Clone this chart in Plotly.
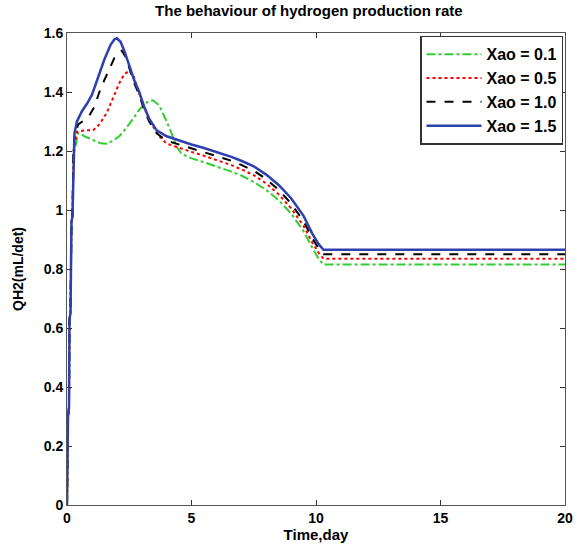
import plotly.graph_objects as go

# ---- data ----
start_x = [0, 0.04, 0.08, 0.1, 0.14, 0.18, 0.22, 0.26]
start_y = [0, 0.30, 0.33, 0.63, 0.65, 0.96, 0.98, 1.20]

x_01 = [0.3, 0.45, 0.7, 1.05, 1.35, 1.6, 1.85, 2.1, 2.4, 2.7, 2.9, 3.2, 3.45, 3.7, 3.85, 4.0, 4.2, 4.4, 4.6,
        5.0, 5.5, 6.0, 6.6, 7.0, 7.5, 8.0, 8.5, 9.0, 9.5, 9.85, 10.1, 10.3, 15, 20]
y_01 = [1.20, 1.262, 1.25, 1.237, 1.226, 1.225, 1.235, 1.25, 1.28, 1.315, 1.34, 1.365, 1.372, 1.355, 1.33, 1.30,
        1.26, 1.215, 1.19, 1.175, 1.162, 1.148, 1.13, 1.117, 1.095, 1.068, 1.033, 0.988, 0.928, 0.872, 0.835,
        0.815, 0.815, 0.815]

x_05 = [0.3, 0.4, 0.7, 1.05, 1.3, 1.6, 1.9, 2.1, 2.3, 2.5, 2.65, 2.8, 3.0, 3.3, 3.7, 4.0, 4.5, 5.0, 5.5, 6.0,
        6.6, 7.0, 7.5, 8.0, 8.5, 9.0, 9.5, 9.85, 10.1, 10.3, 15, 20]
y_05 = [1.22, 1.265, 1.27, 1.27, 1.29, 1.33, 1.39, 1.43, 1.46, 1.472, 1.46, 1.42, 1.37, 1.305, 1.25, 1.225,
        1.21, 1.197, 1.184, 1.17, 1.152, 1.138, 1.118, 1.09, 1.053, 1.006, 0.946, 0.89, 0.855, 0.835, 0.835, 0.835]

x_10 = [0.3, 0.45, 0.7, 0.9, 1.1, 1.3, 1.5, 1.7, 1.9, 2.1, 2.2, 2.35, 2.5, 2.7, 2.9, 3.1, 3.3, 3.6, 4.0, 4.5,
        5.0, 5.5, 6.0, 6.6, 7.0, 7.5, 8.0, 8.5, 9.0, 9.5, 9.85, 10.1, 10.3, 15, 20]
y_10 = [1.25, 1.29, 1.305, 1.32, 1.35, 1.40, 1.44, 1.48, 1.515, 1.535, 1.54, 1.52, 1.48, 1.43, 1.39, 1.34,
        1.30, 1.26, 1.235, 1.222, 1.21, 1.197, 1.185, 1.167, 1.153, 1.133, 1.105, 1.068, 1.022, 0.962, 0.905,
        0.87, 0.85, 0.85, 0.85]

x_15 = [0.3, 0.4, 0.6, 0.8, 1.0, 1.25, 1.5, 1.75, 1.9, 2.0, 2.15, 2.3, 2.5, 2.7, 2.9, 3.1, 3.3, 3.6, 4.0, 4.5,
        5.0, 5.5, 6.0, 6.6, 7.0, 7.5, 8.0, 8.5, 9.0, 9.5, 9.85, 10.1, 10.3, 15, 20]
y_15 = [1.26, 1.30, 1.335, 1.36, 1.39, 1.45, 1.51, 1.56, 1.578, 1.582, 1.57, 1.54, 1.49, 1.44, 1.40, 1.35,
        1.31, 1.27, 1.25, 1.235, 1.222, 1.21, 1.197, 1.18, 1.167, 1.148, 1.12, 1.085, 1.04, 0.98, 0.92, 0.885,
        0.865, 0.865, 0.865]

names = ["Xao = 0.1", "Xao = 0.5", "Xao = 1.0", "Xao = 1.5"]
x_ticks = [0, 5, 10, 15, 20]
y_ticks = [0, 0.2, 0.4, 0.6, 0.8, 1.0, 1.2, 1.4, 1.6]
y_tick_labels = ["0", "0.2", "0.4", "0.6", "0.8", "1", "1.2", "1.4", "1.6"]

series = [
    (x_01, y_01, "#33cc33", "dashdot", 2),
    (x_05, y_05, "#ff0000", "dot", 2),
    (x_10, y_10, "#000000", "dash", 2),
    (x_15, y_15, "#2e40b0", "solid", 2.5),
]

fig = go.Figure()
for (xs, ys, color, dash, w), name in zip(series, names):
    fig.add_trace(go.Scatter(
        x=start_x + xs, y=start_y + ys, mode="lines", name=name,
        line=dict(color=color, dash=dash, width=w),
    ))

font_family = "Liberation Sans, Arial, sans-serif"
fig.update_layout(
    width=585, height=555,
    margin=dict(l=67, r=18, t=33, b=50),
    paper_bgcolor="white", plot_bgcolor="white",
    title=dict(text="The behaviour of hydrogen production rate", x=0.528, xanchor="center",
               y=0.99, yanchor="top",
               font=dict(family=font_family, size=15, color="black", weight="bold")),
    font=dict(family=font_family, color="black"),
    legend=dict(x=0.996, y=0.994, xanchor="right", yanchor="top",
                bgcolor="white", bordercolor="#333333", borderwidth=1.5,
                font=dict(family=font_family, size=16, color="black", weight="bold"),
                tracegroupgap=0, itemwidth=55),
    showlegend=True,
)
fig.update_xaxes(
    range=[0, 20], tickvals=x_ticks, ticks="inside", ticklen=5, tickcolor="#333333",
    showline=True, linecolor="#555555", linewidth=1, mirror="ticks", showgrid=False, zeroline=False,
    tickfont=dict(family=font_family, size=14, color="black", weight="bold"),
    title=dict(text="Time,day", standoff=2,
               font=dict(family=font_family, size=15, color="black", weight="bold")),
)
fig.update_yaxes(
    range=[0, 1.6], tickvals=y_ticks, ticktext=y_tick_labels, ticks="inside", ticklen=5, tickcolor="#333333",
    showline=True, linecolor="#555555", linewidth=1, mirror="ticks", showgrid=False, zeroline=False,
    tickfont=dict(family=font_family, size=14, color="black", weight="bold"),
    title=dict(text="QH2(mL/det)", standoff=16,
               font=dict(family=font_family, size=14, color="black", weight="bold")),
)

fig.write_html("out.html")
